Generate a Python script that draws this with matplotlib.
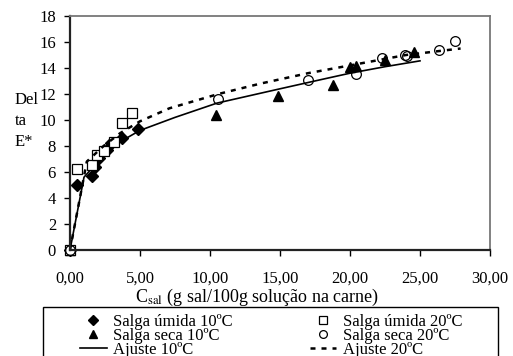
import matplotlib
matplotlib.use("Agg")
import matplotlib.pyplot as plt
from matplotlib.patches import Rectangle

plt.rcParams["font.family"] = ["Liberation Serif", "DejaVu Serif"]
plt.rcParams["mathtext.fontset"] = "stix"
plt.rcParams["font.size"] = 12

# Salga úmida 10ºC (diamonds)
umida10_x = [0.0, 0.52, 1.6, 1.79, 2.07, 2.62, 2.9, 3.74, 4.83]
umida10_y = [0.0, 5.0, 5.7, 6.35, 7.1, 7.7, 8.2, 8.65, 9.3]
# Salga úmida 20ºC (squares)
umida20_x = [0.0, 0.52, 1.55, 1.9, 2.4, 3.15, 3.7, 4.45]
umida20_y = [0.0, 6.2, 6.55, 7.3, 7.6, 8.3, 9.8, 10.55]
# Salga seca 10ºC (triangles)
seca10_x = [0.0, 10.43, 14.88, 18.76, 20.0, 20.43, 22.5, 24.57]
seca10_y = [0.0, 10.35, 11.85, 12.7, 14.1, 14.15, 14.65, 15.25]
# Salga seca 20ºC (circles)
seca20_x = [0.0, 10.6, 17.0, 20.43, 22.26, 23.9, 24.1, 26.36, 27.5]
seca20_y = [0.0, 11.65, 13.05, 13.55, 14.75, 15.0, 14.9, 15.35, 16.05]
# Ajuste 10ºC (solid fit line)
ajuste10_x = [0.0, 1.0, 1.7, 2.7, 3.7, 5.0, 7.5, 10.5, 15.0, 17.9, 20.0, 22.5, 25.0]
ajuste10_y = [0.0, 5.6, 6.45, 7.5, 8.4, 9.2, 10.2, 11.3, 12.4, 13.1, 13.6, 14.1, 14.55]
# Ajuste 20ºC (dashed fit line)
ajuste20_x = [0.0, 1.2, 2.4, 3.6, 5.0, 7.1, 10.6, 13.6, 17.0, 20.5, 24.0, 27.9]
ajuste20_y = [0.0, 6.8, 8.0, 9.0, 9.9, 10.9, 12.0, 12.8, 13.6, 14.3, 15.0, 15.5]

x_ticks = [0, 5, 10, 15, 20, 25, 30]
x_ticklabels = ["0,00", "5,00", "10,00", "15,00", "20,00", "25,00", "30,00"]
y_ticks = [0, 2, 4, 6, 8, 10, 12, 14, 16, 18]

W, H = 513, 356
fig = plt.figure(figsize=(W / 100, H / 100), dpi=100)
ax = fig.add_axes([70 / W, 1 - 250 / H, 420 / W, 234 / H])

h1, = ax.plot(umida10_x, umida10_y, "D", color="black", ms=6, clip_on=False,
              label="Salga úmida 10ºC")
h3, = ax.plot(seca10_x, seca10_y, "^", color="black", ms=7, clip_on=False,
              label="Salga seca 10ºC")
h5, = ax.plot(ajuste10_x, ajuste10_y, "-", color="black", lw=1.2,
              label="Ajuste 10ºC")
h2, = ax.plot(umida20_x, umida20_y, "s", mfc="white", mec="black", mew=0.9,
              ms=7.5, clip_on=False, label="Salga úmida 20ºC")
h4, = ax.plot(seca20_x, seca20_y, "o", mfc="none", mec="black", mew=0.9,
              ms=7, clip_on=False, label="Salga seca 20ºC")
h6, = ax.plot(ajuste20_x, ajuste20_y, color="black", lw=1.8,
              linestyle=(0, (2.0, 2.4)), label="Ajuste 20ºC")

ax.set_xlim(0, 30)
ax.set_ylim(0, 18)
ax.set_xticks(x_ticks)
ax.set_xticklabels(x_ticklabels)
ax.set_yticks(y_ticks)
ax.tick_params(axis="x", direction="out", length=4, pad=11, width=1)
ax.tick_params(axis="y", direction="out", length=4, pad=6, width=1)

for side in ["left", "bottom"]:
    ax.spines[side].set_color("#222222")
    ax.spines[side].set_linewidth(1.6)
for side in ["top", "right"]:
    ax.spines[side].set_color("#777777")
    ax.spines[side].set_linewidth(1.3)

fig.text(15 / W, 1 - 121 / H, "Del\nta\nE*", ha="left", va="center",
         linespacing=1.45)
fig.text(257 / W, 1 - 297 / H,
         r"C$_{\mathrm{sal}}$ (g sal/100g solução na carne)",
         ha="center", va="center", fontsize=13)

# legend frame (runs off the bottom of the image)
fig.patches.append(Rectangle((43 / W, -0.05), 455 / W, 0.05 + (1 - 307 / H),
                             transform=fig.transFigure, fill=False,
                             edgecolor="black", lw=1.0))
fig.legend(handles=[h1, h3, h5, h2, h4, h6], ncol=2, frameon=False,
           loc="upper left", bbox_to_anchor=(80 / W, 1 - 314 / H),
           borderpad=0, borderaxespad=0, labelspacing=-0.12,
           handlelength=1.6, handletextpad=0.4, columnspacing=4.6,
           markerscale=0.8)

fig.savefig("out.png", dpi=100)
